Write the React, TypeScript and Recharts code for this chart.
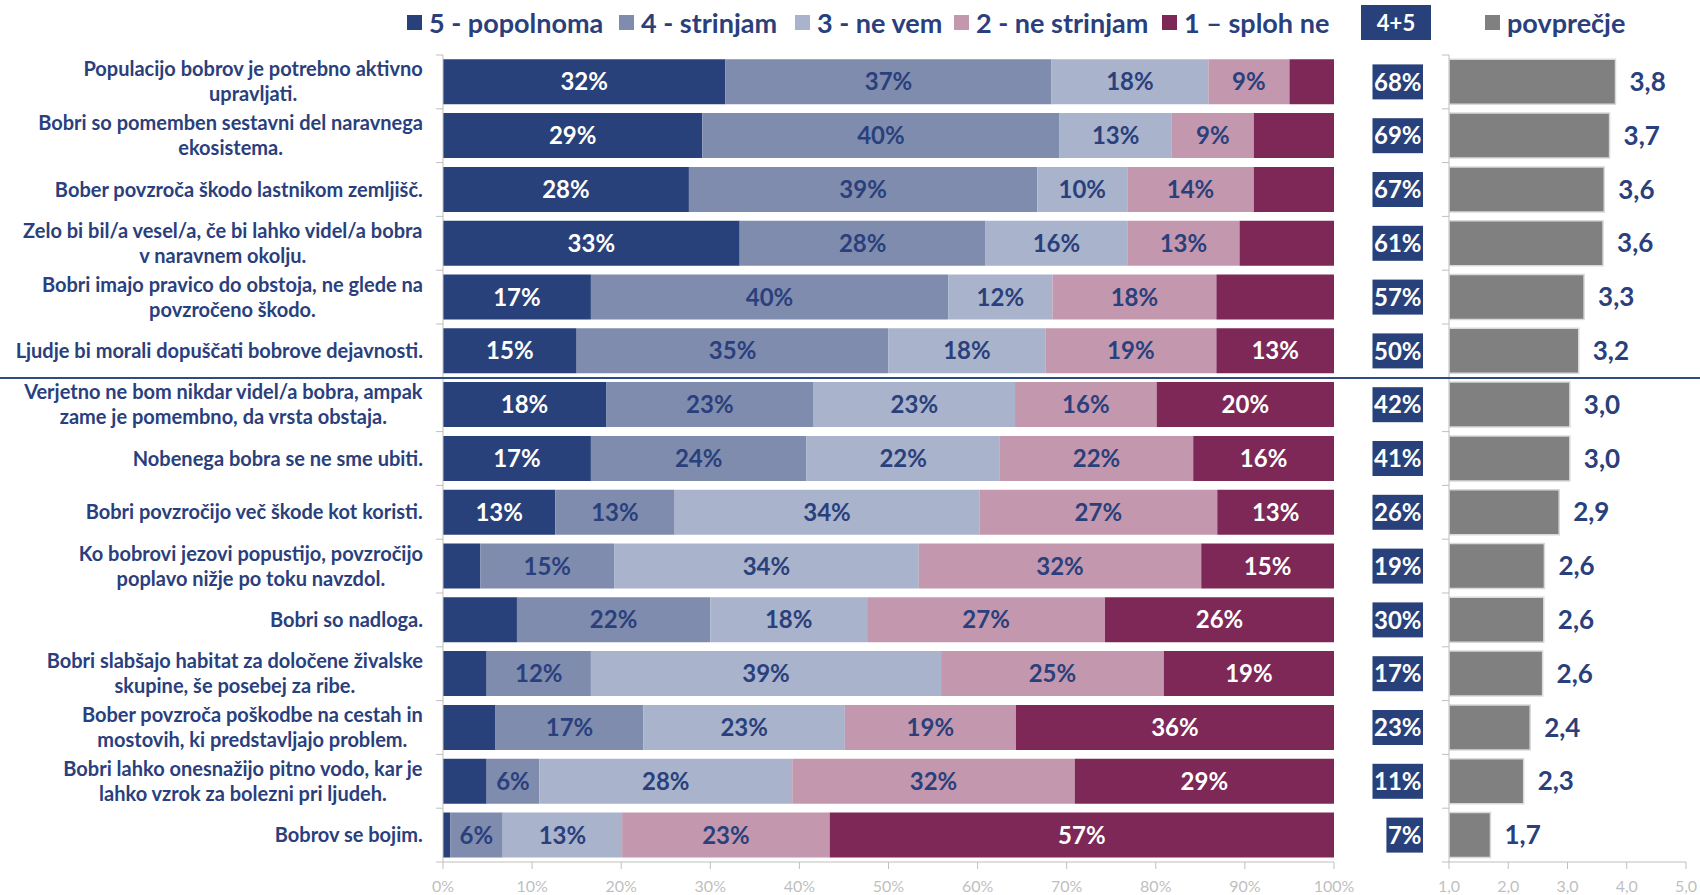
import React from 'react';
import { BarChart, Bar, XAxis, YAxis, LabelList } from 'recharts';

// statements (line breaks as in the original chart)
const statements = [
  'Populacijo bobrov je potrebno aktivno\nupravljati.',
  'Bobri so pomemben sestavni del naravnega\nekosistema.',
  'Bober povzroča škodo lastnikom zemljišč.',
  'Zelo bi bil/a vesel/a, če bi lahko videl/a bobra\nv naravnem okolju.',
  'Bobri imajo pravico do obstoja, ne glede na\npovzročeno škodo.',
  'Ljudje bi morali dopuščati bobrove dejavnosti.',
  'Verjetno ne bom nikdar videl/a bobra, ampak\nzame je pomembno, da vrsta obstaja.',
  'Nobenega bobra se ne sme ubiti.',
  'Bobri povzročijo več škode kot koristi.',
  'Ko bobrovi jezovi popustijo, povzročijo\npoplavo nižje po toku navzdol.',
  'Bobri so nadloga.',
  'Bobri slabšajo habitat za določene živalske\nskupine, še posebej za ribe.',
  'Bober povzroča poškodbe na cestah in\nmostovih, ki predstavljajo problem.',
  'Bobri lahko onesnažijo pitno vodo, kar je\nlahko vzrok za bolezni pri ljudeh.',
  'Bobrov se bojim.',
];

// answer shares in %
const s5 = [31.7, 29.1, 27.6, 33.3, 16.6, 15.0, 18.3, 16.6, 12.6, 4.2, 8.3, 4.9, 5.9, 4.9, 0.8];
const s4 = [36.6, 40.1, 39.1, 27.6, 40.1, 35.0, 23.3, 24.2, 13.4, 15.0, 21.7, 11.7, 16.6, 5.9, 5.9];
const s3 = [17.6, 12.6, 10.1, 15.9, 11.7, 17.6, 22.6, 21.7, 34.2, 34.2, 17.6, 39.3, 22.6, 28.4, 13.4];
const s2 = [9.1, 9.2, 14.2, 12.6, 18.4, 19.2, 15.9, 21.7, 26.7, 31.7, 26.7, 25.0, 19.2, 31.7, 23.3];
const s1 = [5.0, 9.0, 9.0, 10.6, 13.2, 13.2, 19.9, 15.8, 13.1, 14.9, 25.7, 19.1, 35.7, 29.1, 56.6];

// 4+5 share and mean score
const top2 = [68, 69, 67, 61, 57, 50, 42, 41, 26, 19, 30, 17, 23, 11, 7];
const avg = [3.81, 3.71, 3.62, 3.6, 3.28, 3.19, 3.04, 3.04, 2.86, 2.61, 2.6, 2.58, 2.37, 2.26, 1.7];

// segments whose label is not shown in the original
const hidden5 = [9, 10, 11, 12, 13, 14];
const hidden1 = [0, 1, 2, 3, 4];

const pctTicks = [0, 10, 20, 30, 40, 50, 60, 70, 80, 90, 100];
const avgTicks = [1, 2, 3, 4, 5];

const rows = statements.map((name, i) => ({
  name,
  s5: s5[i],
  s4: s4[i],
  s3: s3[i],
  s2: s2[i],
  s1: s1[i],
  top2: top2[i],
  avg: avg[i],
}));

const FONT = 'Lato, "Liberation Sans", sans-serif';
const NAVY = '#2A407C';
const C5 = '#29417A';
const C4 = '#7F8CAE';
const C3 = '#A9B3CB';
const C2 = '#C398AE';
const C1 = '#7D2857';
const GRID = '#BFBFBF';

const H = 895;
const TOP = 55;
const XAXIS_H = 33;
const BAND = (H - TOP - XAXIS_H) / statements.length;

let ctx: CanvasRenderingContext2D | null = null;
function textWidth(text: string, font: string) {
  if (!ctx) ctx = document.createElement('canvas').getContext('2d');
  if (!ctx) return text.length * 10;
  ctx.font = font;
  return ctx.measureText(text).width;
}

function BoundaryTicks({ x, y, last }: { x: number; y: number; last: boolean }) {
  return (
    <>
      <line x1={x - 7} x2={x} y1={y - BAND / 2} y2={y - BAND / 2} stroke={GRID} />
      {last && <line x1={x - 7} x2={x} y1={y + BAND / 2} y2={y + BAND / 2} stroke={GRID} />}
    </>
  );
}

const CategoryTick = (props: any) => {
  const { x, y, payload } = props;
  const idx = statements.indexOf(payload.value);
  const lines = String(payload.value).split('\n');
  const size = 20;
  const lh = 25;
  const widths = lines.map((l) => textWidth(l, `bold ${size}px ${FONT}`));
  const cx = x - 20 - Math.max(...widths) / 2;
  const y0 = y - ((lines.length - 1) * lh) / 2;
  return (
    <g>
      <BoundaryTicks x={x} y={y} last={idx === statements.length - 1} />
      <text textAnchor="middle" fill={NAVY} fontSize={size} fontWeight="bold" fontFamily={FONT}>
        {lines.map((l, i) => (
          <tspan key={i} x={cx} y={y0 + i * lh} dy="0.35em">
            {l}
          </tspan>
        ))}
      </text>
    </g>
  );
};

const Top2Tick = (props: any) => {
  const { x, y, payload } = props;
  const idx = statements.indexOf(payload.value);
  const label = `${top2[idx]}%`;
  const size = 24;
  const w = textWidth(label, `bold ${size}px ${FONT}`) + 3;
  const right = x - 26;
  return (
    <g>
      <BoundaryTicks x={x} y={y} last={idx === statements.length - 1} />
      <rect x={right - w} y={y - 17.5} width={w} height={35} fill={C5} />
      <text
        x={right - w / 2}
        y={y}
        dy="0.36em"
        textAnchor="middle"
        fill="#fff"
        fontSize={size}
        fontWeight="bold"
        fontFamily={FONT}
      >
        {label}
      </text>
    </g>
  );
};

function segLabel(key: string, color: string, hidden: number[]) {
  return (props: any) => {
    const { x, y, width, height, value, index } = props;
    if (hidden.includes(index)) return null;
    return (
      <text
        key={`${key}-${index}`}
        x={x + width / 2}
        y={y + height / 2}
        dy="0.36em"
        textAnchor="middle"
        fill={color}
        fontSize={24}
        fontWeight="bold"
        fontFamily={FONT}
      >
        {`${Math.round(value)}%`}
      </text>
    );
  };
}

const legendItems = [
  { label: '5 - popolnoma', color: C5, left: 407 },
  { label: '4 - strinjam', color: C4, left: 619 },
  { label: '3 - ne vem', color: C3, left: 795 },
  { label: '2 - ne strinjam', color: C2, left: 954 },
  { label: '1 – sploh ne', color: C1, left: 1162 },
  { label: 'povprečje', color: '#808080', left: 1485 },
];

function LegendRow() {
  return (
    <>
      {legendItems.map((it) => (
        <div
          key={it.label}
          style={{
            position: 'absolute',
            left: it.left,
            top: 5,
            height: 35,
            display: 'flex',
            alignItems: 'center',
            fontFamily: FONT,
            fontWeight: 'bold',
            fontSize: 27,
            color: NAVY,
            whiteSpace: 'nowrap',
          }}
        >
          <span style={{ width: 15, height: 15, background: it.color, marginRight: 7, display: 'inline-block' }} />
          {it.label}
        </div>
      ))}
      <div
        style={{
          position: 'absolute',
          left: 1361,
          top: 5,
          width: 70,
          height: 35,
          background: C5,
          color: '#fff',
          fontFamily: FONT,
          fontWeight: 'bold',
          fontSize: 22,
          display: 'flex',
          alignItems: 'center',
          justifyContent: 'center',
        }}
      >
        4+5
      </div>
    </>
  );
}

export default function App() {
  const axisTick = { fill: GRID, fontSize: 16, fontFamily: FONT };
  return (
    <div style={{ position: 'absolute', left: 0, top: 0, width: 1700, height: H, background: '#fff', overflow: 'hidden' }}>
      <LegendRow />
      <div style={{ position: 'absolute', left: 0, top: 0 }}>
        <BarChart
          width={1370}
          height={H}
          data={rows}
          layout="vertical"
          margin={{ top: TOP, right: 36, bottom: 0, left: 0 }}
          barCategoryGap="8%"
        >
          <XAxis
            type="number"
            domain={[0, 100]}
            ticks={pctTicks}
            tickFormatter={(v: number) => `${v}%`}
            height={XAXIS_H}
            axisLine={{ stroke: GRID }}
            tickLine={{ stroke: GRID }}
            tickSize={7}
            tickMargin={12}
            tick={axisTick}
          />
          <YAxis
            type="category"
            dataKey="name"
            width={443}
            axisLine={{ stroke: GRID }}
            tickLine={false}
            tickSize={0}
            tickMargin={0}
            interval={0}
            tick={<CategoryTick />}
          />
          <Bar dataKey="s5" stackId="a" fill={C5} isAnimationActive={false}>
            <LabelList dataKey="s5" content={segLabel('s5', '#fff', hidden5)} />
          </Bar>
          <Bar dataKey="s4" stackId="a" fill={C4} isAnimationActive={false}>
            <LabelList dataKey="s4" content={segLabel('s4', NAVY, [])} />
          </Bar>
          <Bar dataKey="s3" stackId="a" fill={C3} isAnimationActive={false}>
            <LabelList dataKey="s3" content={segLabel('s3', NAVY, [])} />
          </Bar>
          <Bar dataKey="s2" stackId="a" fill={C2} isAnimationActive={false}>
            <LabelList dataKey="s2" content={segLabel('s2', NAVY, [])} />
          </Bar>
          <Bar dataKey="s1" stackId="a" fill={C1} isAnimationActive={false}>
            <LabelList dataKey="s1" content={segLabel('s1', '#fff', hidden1)} />
          </Bar>
        </BarChart>
      </div>
      <div style={{ position: 'absolute', left: 1350, top: 0 }}>
        <BarChart
          width={350}
          height={H}
          data={rows}
          layout="vertical"
          margin={{ top: TOP, right: 14, bottom: 0, left: 0 }}
          barCategoryGap="8%"
        >
          <XAxis
            type="number"
            domain={[1, 5]}
            ticks={avgTicks}
            allowDataOverflow
            tickFormatter={(v: number) => v.toFixed(1).replace('.', ',')}
            height={XAXIS_H}
            axisLine={{ stroke: GRID }}
            tickLine={{ stroke: GRID }}
            tickSize={7}
            tickMargin={12}
            tick={axisTick}
          />
          <YAxis
            type="category"
            dataKey="name"
            width={99}
            axisLine={{ stroke: GRID }}
            tickLine={false}
            tickSize={0}
            tickMargin={0}
            interval={0}
            tick={<Top2Tick />}
          />
          <Bar dataKey="avg" fill="#808080" stroke="#D9D9D9" strokeWidth={1.5} isAnimationActive={false}>
            <LabelList
              dataKey="avg"
              position="right"
              offset={14}
              formatter={(v: any) => Number(v).toFixed(1).replace('.', ',')}
              fill={NAVY}
              fontSize={26}
              fontWeight="bold"
              fontFamily={FONT}
            />
          </Bar>
        </BarChart>
      </div>
      <div
        style={{
          position: 'absolute',
          left: 0,
          top: TOP + 6 * BAND - 1,
          width: 1700,
          height: 2,
          background: '#2F4A86',
        }}
      />
    </div>
  );
}
